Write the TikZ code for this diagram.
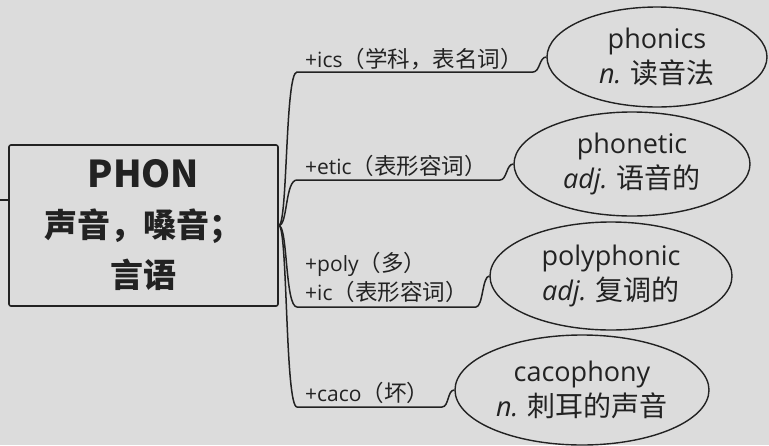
\documentclass[tikz,border=0pt]{standalone}
\usepackage{fontspec}
\setmainfont{Open Sans}
\newfontfamily\cjk{Noto Sans CJK SC}
\usetikzlibrary{shapes.geometric}
\definecolor{bg}{HTML}{DCDCDC}
\definecolor{ink}{HTML}{222222}
\newcommand\lc[1]{{\cjk\fontsize{22.5}{29}\selectfont #1}}
\newcommand\ec[1]{{\cjk\fontsize{28}{35}\selectfont #1}}
\begin{document}
\begin{tikzpicture}[x=1pt,y=-1pt,
  conn/.style={draw=ink,line width=1.5pt},
  ell/.style={ellipse,draw=ink,line width=1.4pt,inner sep=0pt,align=center,text=ink,
    font=\fontsize{27}{35}\selectfont},
  lbl/.style={anchor=west,inner sep=0pt,align=left,text=ink,font=\fontsize{21}{29}\selectfont}]
\fill[bg] (0,0) rectangle (769,445);
\useasboundingbox (0,0) rectangle (769,445);

\node[draw=ink,line width=1.6pt,rounded corners=2pt,minimum width=269pt,minimum height=161pt,
  inner sep=0pt,align=center,text=ink,font=\cjk\bfseries\fontsize{33}{50}\selectfont]
  (box) at (143.5,225.5) {{\fontsize{37}{50}\selectfont PHON}\\声音，嗓音；\\言语};

\coordinate (lft) at (0,200);
\draw[conn] (lft) -- (lft -| box.west);

\node[ell,minimum width=220pt,minimum height=100pt] (e1) at (657,57)
  {phonics\\{\itshape n.} \ec{读音法}};
\node[ell,minimum width=236pt,minimum height=104pt] (e2) at (632,164)
  {phonetic\\{\itshape adj.} \ec{语音的}};
\node[ell,minimum width=242pt,minimum height=108pt] (e3) at (611,276)
  {polyphonic\\{\itshape adj.} \ec{复调的}};
\node[ell,minimum width=254pt,minimum height=110pt] (e4) at (582,390)
  {cacophony\\{\itshape n.} \ec{刺耳的声音}};

\node[lbl] (l1) at (305,59) {+ics\lc{（学科，表名词）}};
\node[lbl] (l2) at (305,166) {+etic\lc{（表形容词）}};
\node[lbl] (l3) at (305,277.5) {+poly\lc{（多）}\\+ic\lc{（表形容词）}};
\node[lbl] (l4) at (305,393) {+caco\lc{（坏）}};

\coordinate (c1) at (297,72);  \coordinate (h1) at (533,72);
\coordinate (c2) at (297,180); \coordinate (h2) at (500,180);
\coordinate (c3) at (297,307); \coordinate (h3) at (476,307);
\coordinate (c4) at (297,407); \coordinate (h4) at (442,407);

\draw[conn] (box.east) .. controls +(9,0) and +(-12,0) .. (c1) -- (h1)
  .. controls +(7,0) and +(-7,0) .. (e1.west);
\draw[conn] (box.east) .. controls +(9,0) and +(-12,0) .. (c2) -- (h2)
  .. controls +(7,0) and +(-7,0) .. (e2.west);
\draw[conn] (box.east) .. controls +(9,0) and +(-12,0) .. (c3) -- (h3)
  .. controls +(7,0) and +(-7,0) .. (e3.west);
\draw[conn] (box.east) .. controls +(9,0) and +(-12,0) .. (c4) -- (h4)
  .. controls +(7,0) and +(-7,0) .. (e4.west);
\end{tikzpicture}
\end{document}
